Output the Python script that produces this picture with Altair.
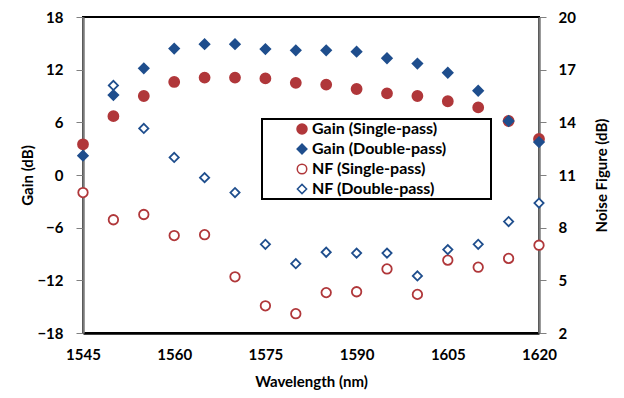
import altair as alt
import pandas as pd

wavelength = [1545, 1550, 1555, 1560, 1565, 1570, 1575, 1580, 1585, 1590, 1595, 1600, 1605, 1610, 1615, 1620]
gain_single = [3.5, 6.7, 9.0, 10.6, 11.1, 11.1, 11.0, 10.5, 10.3, 9.8, 9.3, 9.0, 8.4, 7.7, 6.15, 4.1]
gain_double = [2.2, 9.1, 12.15, 14.4, 14.9, 14.9, 14.35, 14.2, 14.2, 14.05, 13.3, 12.7, 11.65, 9.6, 6.15, 3.75]
nf_single = [10.0, 8.45, 8.75, 7.55, 7.6, 5.2, 3.55, 3.1, 4.3, 4.35, 5.65, 4.2, 6.15, 5.75, 6.25, 7.0]
nf_double = [None, 16.1, 13.65, 12.0, 10.85, 10.0, 7.05, 5.95, 6.6, 6.55, 6.55, 5.25, 6.75, 7.05, 8.35, 9.4]

names = ["Gain (Single-pass)", "Gain (Double-pass)", "NF (Single-pass)", "NF (Double-pass)"]
kinds = ["gain", "gain", "nf", "nf"]
series_vals = [gain_single, gain_double, nf_single, nf_double]

rows = []
for name, kind, vals in zip(names, kinds, series_vals):
    for w, v in zip(wavelength, vals):
        if v is not None:
            rows.append({"wl": w, "value": v, "series": name, "kind": kind})
df = pd.DataFrame(rows)

RED = "#b0373a"
BLUE = "#1f4e8d"
FONT = "Lato"

legend = alt.Legend(
    title="\u00a0", titleOrient="right", titlePadding=43, titleColor="white", titleFontSize=8,
    orient="none", legendX=179, legendY=102, padding=2,
    symbolOffset=30, labelFontSize=16, labelFont=FONT, labelFontWeight="bold",
    labelColor="black", labelLimit=400, strokeColor="black", rowPadding=4,
    labelOffset=2,
)

common = dict(
    x=alt.X("wl:Q", scale=alt.Scale(domain=[1545, 1620], nice=False, zero=False),
            axis=alt.Axis(values=[1545, 1560, 1575, 1590, 1605, 1620], title="Wavelength (nm)",
                          ticks=False, labelPadding=14, titlePadding=12, grid=False,
                          labelFlush=False, labelOverlap=False,
                          domainColor="black", domainWidth=2.5, format="d")),
    fill=alt.Fill("series:N", scale=alt.Scale(domain=names, range=[RED, BLUE, "white", "white"]), legend=legend),
    stroke=alt.Stroke("series:N", scale=alt.Scale(domain=names, range=[RED, BLUE, RED, BLUE]), legend=legend),
    shape=alt.Shape("series:N", scale=alt.Scale(domain=names, range=["circle", "diamond", "circle", "diamond"]), legend=legend),
    size=alt.Size("series:N", scale=alt.Scale(domain=names, range=[100, 85, 48, 75]), legend=legend),
)

gain = alt.Chart(df).transform_filter("datum.kind == 'gain'").mark_point(strokeWidth=1.8, opacity=1).encode(
    y=alt.Y("value:Q", scale=alt.Scale(domain=[-18, 18], nice=False, zero=False),
            axis=alt.Axis(values=[-18, -12, -6, 0, 6, 12, 18], title="Gain (dB)", orient="left",
                          tickSize=7, tickColor="#808080", labelPadding=13, titlePadding=1, grid=False,
                          labelFlush=False, domainColor="#7a7a7a", domainWidth=2.5)),
    **common,
)

nf = alt.Chart(df).transform_filter("datum.kind == 'nf'").mark_point(strokeWidth=1.8, opacity=1).encode(
    y=alt.Y("value:Q", scale=alt.Scale(domain=[2, 20], nice=False, zero=False),
            axis=alt.Axis(values=[2, 5, 8, 11, 14, 17, 20], title="Noise Figure (dB)", orient="right",
                          tickSize=7, tickColor="#808080", labelPadding=12, titlePadding=34, grid=False,
                          labelFlush=False, titleAngle=270, domainColor="#7a7a7a", domainWidth=2.5)),
    **common,
)

chart = alt.layer(gain, nf).resolve_scale(y="independent").properties(
    width=456, height=316,
    autosize=alt.AutoSizeParams(type="none"),
    padding={"left": 83, "top": 17, "right": 85, "bottom": 65},
).configure_view(stroke="black", strokeWidth=2).configure_axis(
    labelFont=FONT, labelFontSize=15, labelFontWeight="bold", labelColor="black",
    titleFont=FONT, titleFontSize=15, titleFontWeight="bold", titleColor="black",
).configure_legend(strokeWidth=2)

chart.save("out.html", embed_options={"renderer": "svg", "actions": False})
